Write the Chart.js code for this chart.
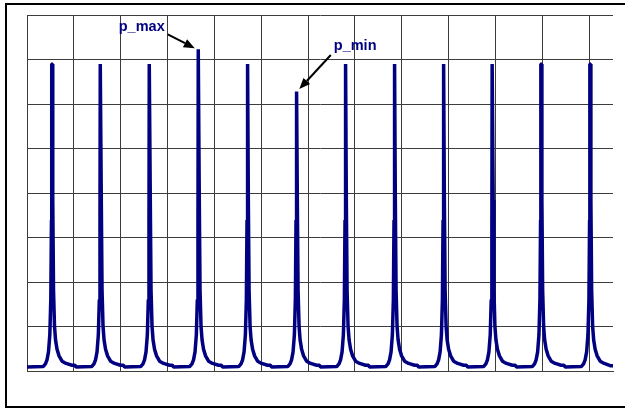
<!DOCTYPE html>
<html>
<head>
<meta charset="utf-8">
<script src="https://cdn.jsdelivr.net/npm/chart.js@4"></script>
<style>
    html, body { margin: 0; padding: 0; background: #fff; overflow: hidden; }
    canvas { position: absolute; left: 0; top: 0; }
</style>
</head>
<body>
<canvas id="chart" width="625" height="408"></canvas>
<script>
// sample times (grid units), one row per pulse
const t = [
    0,
    0.344, 0.394, 0.427, 0.459, 0.487, 0.508, 0.522, 0.528, 0.540, 0.550, 0.566, 0.587, 0.609, 0.641, 0.684, 0.748, 0.834, 0.961, 1.024, 1.044,
    1.380, 1.430, 1.463, 1.495, 1.523, 1.544, 1.558, 1.564, 1.576, 1.586, 1.602, 1.623, 1.645, 1.677, 1.720, 1.784, 1.870, 1.997, 2.060, 2.080,
    2.426, 2.476, 2.509, 2.541, 2.569, 2.590, 2.604, 2.610, 2.622, 2.632, 2.648, 2.669, 2.691, 2.723, 2.766, 2.830, 2.916, 3.043, 3.106, 3.126,
    3.472, 3.522, 3.555, 3.587, 3.615, 3.636, 3.650, 3.656, 3.668, 3.678, 3.694, 3.715, 3.737, 3.769, 3.812, 3.876, 3.962, 4.089, 4.152, 4.172,
    4.519, 4.569, 4.602, 4.634, 4.662, 4.683, 4.697, 4.703, 4.715, 4.725, 4.741, 4.762, 4.784, 4.816, 4.859, 4.923, 5.009, 5.136, 5.199, 5.219,
    5.565, 5.615, 5.648, 5.680, 5.708, 5.729, 5.743, 5.749, 5.761, 5.771, 5.787, 5.808, 5.830, 5.862, 5.905, 5.969, 6.055, 6.182, 6.245, 6.265,
    6.611, 6.661, 6.694, 6.726, 6.754, 6.775, 6.789, 6.795, 6.807, 6.817, 6.833, 6.854, 6.876, 6.908, 6.951, 7.015, 7.101, 7.228, 7.291, 7.311,
    7.657, 7.707, 7.740, 7.772, 7.800, 7.821, 7.835, 7.841, 7.853, 7.863, 7.879, 7.900, 7.922, 7.954, 7.997, 8.061, 8.147, 8.274, 8.337, 8.357,
    8.704, 8.754, 8.787, 8.819, 8.847, 8.868, 8.882, 8.888, 8.900, 8.910, 8.926, 8.947, 8.969, 9.001, 9.044, 9.108, 9.194, 9.321, 9.384, 9.404,
    9.746, 9.796, 9.829, 9.861, 9.889, 9.910, 9.924, 9.930, 9.942, 9.952, 9.968, 9.989, 10.011, 10.043, 10.086, 10.150, 10.236, 10.363, 10.426, 10.446,
    10.786, 10.836, 10.869, 10.901, 10.929, 10.950, 10.964, 10.970, 10.982, 10.992, 11.008, 11.029, 11.051, 11.083, 11.126, 11.190, 11.276, 11.403, 11.466, 11.486,
    11.832, 11.882, 11.915, 11.947, 11.975, 11.996, 12.010, 12.016, 12.028, 12.038, 12.054, 12.075, 12.097, 12.129, 12.172, 12.236, 12.322, 12.449, 12.490, 12.532
];

// pressure at each sample
const p = [
    0.09,
    0.10, 0.16, 0.25, 0.43, 0.81, 1.60, 3.39, 6.90, 6.90, 3.84, 1.82, 1.01, 0.70, 0.49, 0.34, 0.22, 0.17, 0.13, 0.13, 0.09,
    0.10, 0.16, 0.25, 0.43, 0.81, 1.60, 3.39, 6.90, 6.90, 3.84, 1.82, 1.01, 0.70, 0.49, 0.34, 0.22, 0.17, 0.13, 0.13, 0.09,
    0.10, 0.16, 0.25, 0.43, 0.81, 1.60, 3.39, 6.90, 6.90, 3.84, 1.82, 1.01, 0.70, 0.49, 0.34, 0.22, 0.17, 0.13, 0.13, 0.09,
    0.10, 0.16, 0.25, 0.43, 0.81, 1.60, 3.39, 7.23, 7.23, 3.84, 1.82, 1.01, 0.70, 0.49, 0.34, 0.22, 0.17, 0.13, 0.13, 0.09,
    0.10, 0.16, 0.25, 0.43, 0.81, 1.60, 3.39, 6.90, 6.90, 3.84, 1.82, 1.01, 0.70, 0.49, 0.34, 0.22, 0.17, 0.13, 0.13, 0.09,
    0.10, 0.16, 0.25, 0.43, 0.81, 1.60, 3.39, 6.28, 6.28, 3.84, 1.82, 1.01, 0.70, 0.49, 0.34, 0.22, 0.17, 0.13, 0.13, 0.09,
    0.10, 0.16, 0.25, 0.43, 0.81, 1.60, 3.39, 6.90, 6.90, 3.84, 1.82, 1.01, 0.70, 0.49, 0.34, 0.22, 0.17, 0.13, 0.13, 0.09,
    0.10, 0.16, 0.25, 0.43, 0.81, 1.60, 3.39, 6.90, 6.90, 3.84, 1.82, 1.01, 0.70, 0.49, 0.34, 0.22, 0.17, 0.13, 0.13, 0.09,
    0.10, 0.16, 0.25, 0.43, 0.81, 1.60, 3.39, 6.90, 6.90, 3.84, 1.82, 1.01, 0.70, 0.49, 0.34, 0.22, 0.17, 0.13, 0.13, 0.09,
    0.10, 0.16, 0.25, 0.43, 0.81, 1.60, 3.39, 6.90, 6.90, 3.84, 1.82, 1.01, 0.70, 0.49, 0.34, 0.22, 0.17, 0.13, 0.13, 0.09,
    0.10, 0.16, 0.25, 0.43, 0.81, 1.60, 3.39, 6.90, 6.90, 3.84, 1.82, 1.01, 0.70, 0.49, 0.34, 0.22, 0.17, 0.13, 0.13, 0.09,
    0.10, 0.16, 0.25, 0.43, 0.81, 1.60, 3.39, 6.90, 6.90, 3.84, 1.82, 1.01, 0.70, 0.49, 0.34, 0.22, 0.17, 0.12, 0.12, 0.12
];

const xMax = 12.51;
const yMax = 8;

// highest and lowest pulse tops
const peakIdx = p.map((v, i) => i).filter(i => p[i] > 5);
const iMax = peakIdx.reduce((a, b) => (p[b] > p[a] ? b : a));
const iMin = peakIdx.reduce((a, b) => (p[b] < p[a] ? b : a));

// callouts: arrow tip / tail and text offsets (px) from the peak
const callouts = [
    { idx: iMax, text: 'p_max', tip: [-3.5, -1], tail: [-30.5, -15], label: [-79.5, -18] },
    { idx: iMin, text: 'p_min', tip: [3, -2.5], tail: [34.5, -36.5], label: [37.5, -41.5] }
];

// outer chart frame, open on the right where the sheet is cut off
const framePlugin = {
    id: 'frame',
    beforeDraw(chart) {
        const ctx = chart.ctx;
        ctx.save();
        ctx.strokeStyle = '#000';
        ctx.lineWidth = 2;
        ctx.beginPath();
        ctx.moveTo(chart.width + 10, 4);
        ctx.lineTo(6, 4);
        ctx.lineTo(6, 407);
        ctx.lineTo(chart.width + 10, 407);
        ctx.stroke();
        ctx.restore();
    }
};

const calloutPlugin = {
    id: 'callouts',
    afterDraw(chart) {
        const ctx = chart.ctx;
        const xs = chart.scales.x;
        const ys = chart.scales.y;
        ctx.save();
        callouts.forEach(c => {
            const px = xs.getPixelForValue(t[c.idx]);
            const py = ys.getPixelForValue(p[c.idx]);
            const tx = px + c.tip[0], ty = py + c.tip[1];
            const sx = px + c.tail[0], sy = py + c.tail[1];
            const ang = Math.atan2(ty - sy, tx - sx);
            const len = 11, half = 4.5;
            const bx = tx - len * Math.cos(ang), by = ty - len * Math.sin(ang);

            ctx.strokeStyle = '#000';
            ctx.fillStyle = '#000';
            ctx.lineWidth = 2;
            ctx.beginPath();
            ctx.moveTo(sx, sy);
            ctx.lineTo(bx, by);
            ctx.stroke();

            ctx.beginPath();
            ctx.moveTo(tx, ty);
            ctx.lineTo(bx + half * Math.sin(ang), by - half * Math.cos(ang));
            ctx.lineTo(bx - half * Math.sin(ang), by + half * Math.cos(ang));
            ctx.closePath();
            ctx.fill();

            ctx.fillStyle = '#000080';
            ctx.font = 'bold 14.5px "Liberation Sans", Arial, sans-serif';
            ctx.textAlign = 'left';
            ctx.textBaseline = 'alphabetic';
            ctx.fillText(c.text, px + c.label[0], py + c.label[1]);
        });
        ctx.restore();
    }
};

const gridColor = '#3c3c3c';
// only whole grid units get a line
const gridAt = ctx => (ctx.tick && Number.isInteger(ctx.tick.value) ? gridColor : 'rgba(0,0,0,0)');

new Chart(document.getElementById('chart'), {
    type: 'line',
    data: {
        datasets: [{
            data: t.map((x, i) => ({ x: x, y: p[i] })),
            borderColor: '#000080',
            borderWidth: 3.5,
            borderJoinStyle: 'bevel',
            pointRadius: 0,
            tension: 0,
            fill: false
        }]
    },
    options: {
        responsive: false,
        animation: false,
        layout: { padding: { left: 27, top: 15, right: 12, bottom: 37 } },
        plugins: {
            legend: { display: false },
            tooltip: { enabled: false }
        },
        scales: {
            x: {
                type: 'linear',
                min: 0,
                max: xMax,
                grid: { color: gridAt, lineWidth: 1, drawTicks: false },
                border: { color: gridColor, width: 1 },
                ticks: { display: false, stepSize: 1, includeBounds: false }
            },
            y: {
                min: 0,
                max: yMax,
                grid: { color: gridAt, lineWidth: 1, drawTicks: false },
                border: { color: gridColor, width: 1 },
                ticks: { display: false, stepSize: 1 }
            }
        }
    },
    plugins: [framePlugin, calloutPlugin]
});
</script>
</body>
</html>
